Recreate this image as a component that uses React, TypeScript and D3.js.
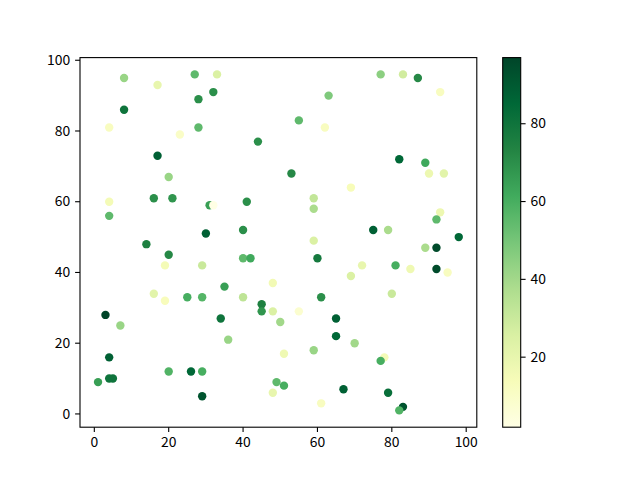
import React from "react";
import * as d3 from "d3";

const xs = [8,17,27,33,28,32,8,4,23,28,44,17,20,4,16,21,31,32,41,4,30,40,
  77,83,87,93,63,55,62,82,89,90,94,53,69,59,59,93,92,75,79,98,59,
  14,20,40,42,19,29,48,35,16,19,25,29,40,45,45,48,3,7,34,36,4,1,4,5,20,26,29,29,49,48,
  60,89,92,72,69,81,85,92,95,61,80,55,50,65,65,70,51,59,78,77,51,67,79,61,83,82];
const ys = [95,93,96,96,89,91,86,81,79,81,77,73,67,60,61,61,59,59,60,56,51,52,
  96,96,95,91,90,83,81,72,71,68,68,68,64,61,58,57,55,52,52,50,49,
  48,45,44,44,42,42,37,36,34,32,33,33,33,31,29,29,28,25,27,21,16,9,10,10,12,12,12,5,9,6,
  44,47,47,42,39,42,41,41,40,33,34,29,26,27,22,20,17,18,16,15,8,7,6,3,2,1];
const cs = [42,20,55,25,70,70,80,12,10,55,70,88,42,15,70,68,65,2,70,55,88,70,
  45,28,72,12,48,55,12,85,62,18,22,72,14,32,38,18,55,88,38,85,25,
  75,72,55,62,15,30,16,65,22,13,60,57,33,75,68,25,97,42,80,42,88,65,80,80,58,85,60,92,55,20,
  78,38,95,20,25,60,17,95,12,70,30,8,40,88,85,40,17,42,15,60,60,88,82,12,92,58];

const xTicks = [0, 20, 40, 60, 80, 100];
const yTicks = [0, 20, 40, 60, 80, 100];
const cTicks = [20, 40, 60, 80];
const ylgn = ["#ffffe5","#f7fcb9","#d9f0a3","#addd8e","#78c679","#41ab5d","#238443","#006837","#004529"];

export default function App() {
  const W = 640, H = 480;
  const L = 80, R = 476.8, T = 57.6, B = 427.2;
  const cbL = 502.7, cbR = 520.7;
  const xmin = d3.min(xs)!, xmax = d3.max(xs)!;
  const ymin = d3.min(ys)!, ymax = d3.max(ys)!;
  const xp = (xmax - xmin) * 0.05, yp = (ymax - ymin) * 0.05;
  const x = d3.scaleLinear().domain([xmin - xp, xmax + xp]).range([L, R]);
  const y = d3.scaleLinear().domain([ymin - yp, ymax + yp]).range([B, T]);
  const cmin = d3.min(cs)!, cmax = d3.max(cs)!;
  const norm = d3.scaleLinear().domain([cmin, cmax]).range([0, 1]).clamp(true);
  const cmap = d3.scaleLinear<string>().domain(d3.range(9).map(i => i / 8)).range(ylgn).interpolate(d3.interpolateRgb);
  const cy = d3.scaleLinear().domain([cmin, cmax]).range([B, T]);
  const font = "'Noto Sans CJK SC', 'Open Sans', sans-serif";
  const fs = 13.9;
  const stops = d3.range(0, 1.0001, 1 / 32);
  return (
    <svg width={W} height={H} style={{ position: "absolute", left: 0, top: 0, background: "#fff" }} fontFamily={font}>
      <defs>
        <linearGradient id="cbg" x1="0" y1="1" x2="0" y2="0">
          {stops.map((s, i) => <stop key={i} offset={s} stopColor={cmap(s)} />)}
        </linearGradient>
        <clipPath id="clip"><rect x={L} y={T} width={R - L} height={B - T} /></clipPath>
      </defs>
      <g clipPath="url(#clip)">
        {xs.map((v, i) => (
          <circle key={i} cx={x(v)} cy={y(ys[i])} r={4.2} fill={cmap(norm(cs[i]))} />
        ))}
      </g>
      <rect x={L} y={T} width={R - L} height={B - T} fill="none" stroke="#000" strokeWidth={1.1} />
      {xTicks.map(t => (
        <g key={t} transform={`translate(${x(t)},${B})`}>
          <line y2={4.9} stroke="#000" strokeWidth={1.1} />
          <text y={4.9 + 4.9 + fs * 0.72} textAnchor="middle" fontSize={fs}>{t}</text>
        </g>
      ))}
      {yTicks.map(t => (
        <g key={t} transform={`translate(${L},${y(t)})`}>
          <line x2={-4.9} stroke="#000" strokeWidth={1.1} />
          <text x={-4.9 - 4.9} dy="0.33em" textAnchor="end" fontSize={fs}>{t}</text>
        </g>
      ))}
      <rect x={cbL} y={T} width={cbR - cbL} height={B - T} fill="url(#cbg)" />
      <rect x={cbL} y={T} width={cbR - cbL} height={B - T} fill="none" stroke="#000" strokeWidth={1.1} />
      {cTicks.map(t => (
        <g key={t} transform={`translate(${cbR},${cy(t)})`}>
          <line x2={4.9} stroke="#000" strokeWidth={1.1} />
          <text x={4.9 + 4.9} dy="0.33em" textAnchor="start" fontSize={fs}>{t}</text>
        </g>
      ))}
    </svg>
  );
}
